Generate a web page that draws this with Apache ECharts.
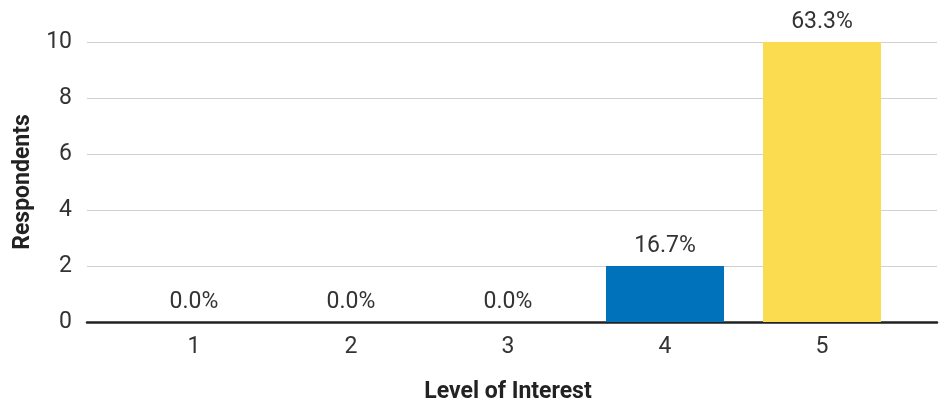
<!DOCTYPE html>
<html>
<head>
<meta charset="utf-8">
<script src="https://cdn.jsdelivr.net/npm/echarts@6/dist/echarts.min.js"></script>
<style>
  html, body { margin: 0; padding: 0; background: #fff; }
  #main { width: 942px; height: 402px; }
</style>
</head>
<body>
<div id="main"></div>
<script>
// data
var categories = ['1', '2', '3', '4', '5'];
var respondents = [0, 0, 0, 2, 10];
var pctLabels = ['0.0%', '0.0%', '0.0%', '16.7%', '63.3%'];
var barColors = ['#0072bb', '#0072bb', '#0072bb', '#0072bb', '#fbdb4f'];

var font = 'Roboto';
var fs = 23;
var chart = echarts.init(document.getElementById('main'));

var option = {
  animation: false,
  textStyle: { fontFamily: font },
  grid: [
    // wide grid: gridlines, y labels, baseline
    { left: 87, right: 5, top: 42, bottom: 80, outerBoundsMode: 'none' },
    // inner grid: bars and category labels
    { left: 115.5, right: 41.5, top: 42, bottom: 80, outerBoundsMode: 'none' }
  ],
  xAxis: [
    {
      gridIndex: 0, type: 'value', min: 0, max: 1,
      axisLine: { show: true, onZero: false, lineStyle: { color: '#222', width: 2.5 } },
      axisTick: { show: false }, axisLabel: { show: false }, splitLine: { show: false }
    },
    {
      gridIndex: 1, type: 'category', data: categories,
      axisLine: { show: false }, axisTick: { show: false },
      axisLabel: { color: '#333', fontSize: fs, margin: 14, fontFamily: font },
      name: 'Level of Interest', nameLocation: 'middle', nameGap: 59,
      nameTextStyle: { color: '#222', fontSize: fs, fontWeight: 'bold', fontFamily: font }
    }
  ],
  yAxis: [
    {
      gridIndex: 0, type: 'value', min: 0, max: 10, interval: 2,
      axisLine: { show: false }, axisTick: { show: false },
      axisLabel: { color: '#333', fontSize: fs, margin: 15, fontFamily: font },
      splitLine: { lineStyle: { color: '#d0d0d0', width: 1 } },
      name: 'Respondents', nameLocation: 'middle', nameGap: 51, nameRotate: 90,
      nameTextStyle: { color: '#222', fontSize: fs, fontWeight: 'bold', fontFamily: font }
    },
    {
      gridIndex: 1, type: 'value', min: 0, max: 10, show: false
    }
  ],
  series: [{
    type: 'bar',
    xAxisIndex: 1, yAxisIndex: 1,
    barWidth: 118,
    data: respondents.map(function (v, i) {
      return { value: v, itemStyle: { color: barColors[i] } };
    }),
    label: {
      show: true, position: 'top', distance: 8,
      color: '#333', fontSize: fs, fontFamily: font,
      formatter: function (p) { return pctLabels[p.dataIndex]; }
    },
    z: 1
  }]
};
chart.setOption(option);
</script>
</body>
</html>
